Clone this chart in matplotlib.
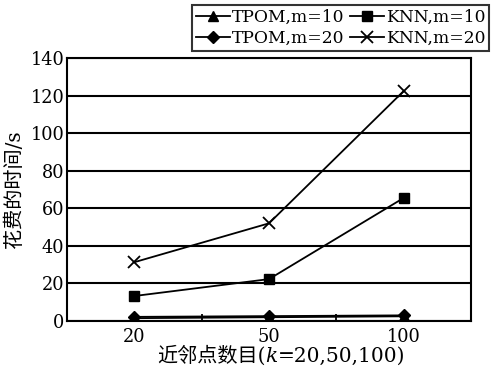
import matplotlib
matplotlib.use("Agg")
import matplotlib.pyplot as plt

plt.rcParams['font.family'] = ['DejaVu Serif', 'Noto Sans CJK SC']

k_labels = ["20", "50", "100"]
tpom_m10 = [1.5, 2.0, 2.5]
knn_m10 = [13.3, 22.3, 65.5]
tpom_m20 = [2.2, 2.6, 3.0]
knn_m20 = [31.3, 52.0, 122.4]

fig = plt.figure(figsize=(4.96, 3.67), dpi=100)
ax = fig.add_axes([67 / 496, 1 - 321 / 367, 404 / 496, 263 / 367])

x = list(range(len(k_labels)))
l1, = ax.plot(x, tpom_m10, color="black", marker="^", markersize=7, lw=1.3, label="TPOM,m=10")
l2, = ax.plot(x, knn_m10, color="black", marker="s", markersize=7, lw=1.3, label="KNN,m=10")
l3, = ax.plot(x, tpom_m20, color="black", marker="D", markersize=6, lw=1.3, label="TPOM,m=20")
l4, = ax.plot(x, knn_m20, color="black", marker="x", markersize=9, mew=1.3, lw=1.3, label="KNN,m=20")

ax.set_xlim(-0.5, 2.5)
ax.set_ylim(0, 140)
ax.set_yticks(range(0, 141, 20))
ax.set_xticks(x)
ax.set_xticklabels(k_labels)
ax.set_xticks([0.5, 1.5], minor=True)
ax.tick_params(axis="x", which="major", length=0, labelsize=12.8, pad=5)
ax.tick_params(axis="x", which="minor", direction="in", length=5, width=1.3)
ax.tick_params(axis="y", length=0, labelsize=12.8, pad=2)
ax.yaxis.grid(True, color="black", lw=1.5)
ax.set_axisbelow(True)
for s in ax.spines.values():
    s.set_linewidth(1.5)

ax.set_ylabel("花费的时间/s", fontsize=14.5, labelpad=5)

# x label in pieces so that k can be italic
t1 = fig.text(157 / 496, 1 - 366 / 367, "近邻点数目(", fontsize=14.5, ha="left", va="bottom")
t2 = ax.annotate("k", xy=(1, 0), xycoords=t1, fontsize=14.5, style="italic", ha="left", va="bottom")
t3 = ax.annotate("=20,50,100)", xy=(1, 0), xycoords=t2, fontsize=14.5, ha="left", va="bottom")

# column-wise fill: first column TPOM, second KNN
leg = fig.legend([l1, l3, l2, l4], [l1.get_label(), l3.get_label(), l2.get_label(), l4.get_label()],
                 ncol=2, loc="upper left", bbox_to_anchor=(192 / 496, 1 - 5 / 367),
                 frameon=True, fancybox=False, edgecolor="black", fontsize=12.3,
                 handlelength=2.0, handletextpad=0.1, columnspacing=0.3,
                 labelspacing=0.2, borderpad=0.25, borderaxespad=0)
leg.get_frame().set_linewidth(1.5)

fig.savefig("out.png", dpi=100)
